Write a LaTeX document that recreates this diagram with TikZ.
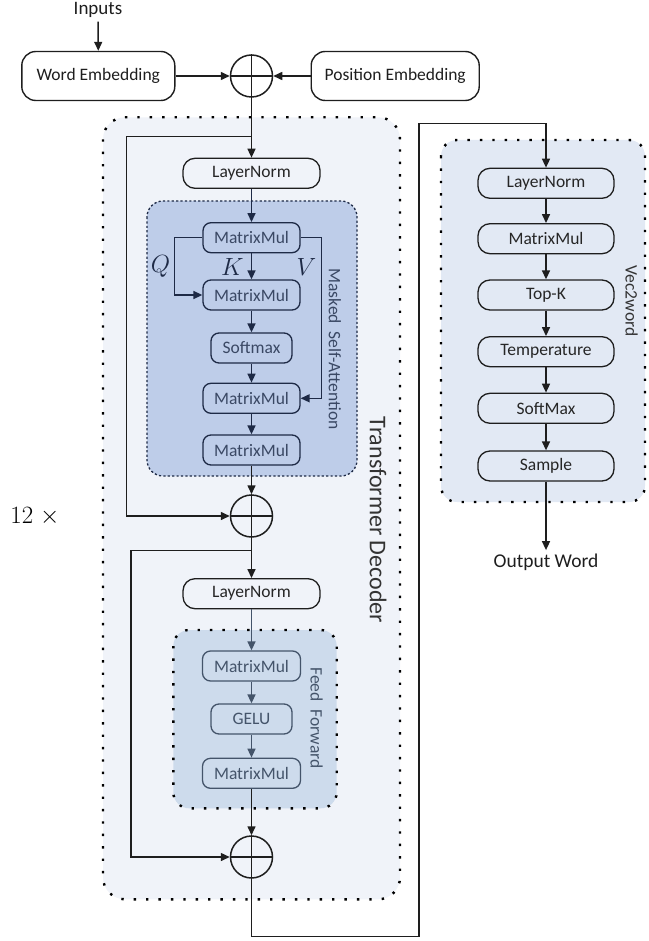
\documentclass[tikz,border=0pt]{standalone}
\usepackage{fontspec}
\setmainfont{Carlito}
\usetikzlibrary{arrows.meta}
\definecolor{outerfill}{RGB}{240,243,249}
\definecolor{vecfill}{RGB}{226,233,244}
\definecolor{attfill}{RGB}{190,205,233}
\definecolor{fffill}{RGB}{205,219,236}
\definecolor{navy}{RGB}{30,42,70}
\definecolor{navytext}{RGB}{58,72,100}
\definecolor{ffcol}{RGB}{68,84,106}
\definecolor{linecol}{RGB}{30,30,30}
\begin{document}
\begin{tikzpicture}[x=1pt,y=-1pt,
  >={Triangle[length=9pt,width=8pt]},
  txt/.style={font=\fontsize{17.5}{20}\selectfont},
  conn/.style={line width=1.5pt, draw=linecol},
  aconn/.style={line width=1.5pt, draw=navy},
  fconn/.style={line width=1.5pt, draw=ffcol},
  embbox/.style={txt, draw=linecol, line width=1.4pt, rounded corners=14pt, fill=white, minimum height=49pt, inner sep=0pt, text=linecol},
  lnbox/.style={txt, draw=linecol, line width=1.3pt, rounded corners=12pt, minimum width=137pt, minimum height=30pt, inner sep=0pt, text=black!85},
  attbox/.style={txt, draw=navy, line width=1.3pt, rounded corners=8pt, minimum height=30pt, inner sep=0pt, text=navytext},
  ffbox/.style={txt, draw=ffcol, line width=1.3pt, rounded corners=8pt, minimum height=30pt, inner sep=0pt, text=ffcol},
  vecbox/.style={txt, draw=linecol, line width=1.3pt, rounded corners=12pt, minimum width=136pt, minimum height=30pt, inner sep=0pt, text=black!85},
  sumc/.style={circle, draw=linecol, line width=1.5pt, minimum size=42pt, inner sep=0pt},
  dotframe/.style={draw=black, line width=2.4pt, dash pattern=on 2.4pt off 10pt},
  rotlabel/.style={txt, rotate=-90, anchor=center},
  qkv/.style={font=\fontsize{25}{28}\selectfont, text=navy}
]
\useasboundingbox (0,0) rectangle (648,941);

% containers
\fill[outerfill, rounded corners=22pt] (103,117.3) rectangle (400,899.3);
\draw[dotframe, rounded corners=22pt] (103,117.3) rectangle (400,899.3);
\fill[vecfill, rounded corners=16pt] (441,140) rectangle (645,502);
\draw[dotframe, rounded corners=16pt] (441,140) rectangle (645,502);
\fill[attfill, rounded corners=16pt] (147,201) rectangle (357,476);
\draw[navy, line width=1.3pt, dash pattern=on 2.2pt off 2.2pt, rounded corners=16pt] (147,201) rectangle (357,476);
\fill[fffill, rounded corners=16pt] (173.3,630) rectangle (336.7,808.3);
\draw[dotframe, rounded corners=16pt] (173.3,630) rectangle (336.7,808.3);

% top
\node[font=\fontsize{19}{22}\selectfont, text=linecol] (inputs) at (98,10) {Inputs};
\node[embbox, minimum width=153pt] (we) at (98.3,76) {Word Embedding};
\node[embbox, minimum width=168pt] (pe) at (395.2,76) {Position Embedding};
\node[sumc] (s1) at (251.5,76) {};

% decoder
\node[lnbox] (ln1) at (251.5,173.3) {LayerNorm};
\node[attbox, minimum width=97pt] (mm1) at (251.5,237.7) {MatrixMul};
\node[attbox, minimum width=97pt] (mm2) at (251.5,295) {MatrixMul};
\node[attbox, minimum width=81pt] (sm) at (251.5,348) {Softmax};
\node[attbox, minimum width=97pt] (mm3) at (251.5,398.3) {MatrixMul};
\node[attbox, minimum width=97pt] (mm4) at (251.5,450) {MatrixMul};
\node[sumc] (s2) at (251.5,516) {};
\node[lnbox] (ln2) at (251.5,593.7) {LayerNorm};
\node[ffbox, minimum width=98pt] (f1) at (251.5,666) {MatrixMul};
\node[ffbox, minimum width=81pt] (gelu) at (251.5,719) {GELU};
\node[ffbox, minimum width=98pt] (f2) at (251.5,773.3) {MatrixMul};
\node[sumc] (s3) at (251.5,857) {};

% vec2word
\node[vecbox] (v1) at (546,183.3) {LayerNorm};
\node[vecbox] (v2) at (546,238.7) {MatrixMul};
\node[vecbox] (v3) at (546,295) {Top-K};
\node[vecbox] (v4) at (546,351.7) {Temperature};
\node[vecbox] (v5) at (546,408.3) {SoftMax};
\node[vecbox] (v6) at (546,466) {Sample};
\node[font=\fontsize{19.5}{22}\selectfont, text=linecol] (out) at (546,562) {Output Word};

% labels
\node[rotlabel, text=navytext] (lab1) at (335,349) {Masked\ \ Self-Attention};
\node[rotlabel, text=ffcol] (lab2) at (316.7,718) {Feed\ \ Forward};
\node[rotlabel, font=\fontsize{24}{28}\selectfont, text=black!80] (lab3) at (378,520) {Transformer Decoder};
\node[rotlabel, text=black!80] (lab4) at (631.7,301) {Vec2word};
\node[font=\fontsize{26}{30}\selectfont] (rep) at (35,517) {$12\;\times$};
\node[qkv] (q) at (160.5,266) {$Q$};
\node[qkv] (k) at (232.5,266.5) {$K$};
\node[qkv] (v) at (306.5,266.5) {$V$};

% circle crosses
\foreach \c in {s1,s2,s3}{
  \draw[line width=1.5pt, linecol] (\c.north) -- (\c.south) (\c.west) -- (\c.east);
}

% coordinates
\coordinate (k1) at (251.5,136.7);
\coordinate (l1) at (126.7,136.7);
\coordinate (k2) at (251.5,550.7);
\coordinate (l2) at (131,550.7);
\coordinate (qx) at (174.3,266);
\coordinate (vx) at (321.7,266);
\coordinate (o1) at (251.5,936.7);
\coordinate (o2) at (419,936.7);
\coordinate (o3) at (419,123.3);
\coordinate (o4) at (546,123.3);
\coordinate (inb) at (98,21.7);

% connectors
\draw[conn,->] (inb) -- (we.north);
\draw[conn,->] (we.east) -- (s1.west);
\draw[conn,->] (pe.west) -- (s1.east);
\draw[conn,->] (s1.south) -- (ln1.north);
\draw[conn,->] (k1) -- (l1) |- (s2.west);
\draw[aconn,->] (ln1.south) -- (mm1.north);
\draw[aconn,->] (mm1.south) -- (mm2.north);
\draw[aconn,->] (mm1.west) -| (qx) |- (mm2.west);
\draw[aconn,->] (mm1.east) -| (vx) |- (mm3.east);
\draw[aconn,->] (mm2.south) -- (sm.north);
\draw[aconn,->] (sm.south) -- (mm3.north);
\draw[aconn,->] (mm3.south) -- (mm4.north);
\draw[conn,->] (mm4.south) -- (s2.north);
\draw[conn,->] (s2.south) -- (ln2.north);
\draw[conn,->] (k2) -- (l2) |- (s3.west);
\draw[fconn,->] (ln2.south) -- (f1.north);
\draw[fconn,->] (f1.south) -- (gelu.north);
\draw[fconn,->] (gelu.south) -- (f2.north);
\draw[conn,->] (f2.south) -- (s3.north);
\draw[conn,->] (s3.south) -- (o1) -- (o2) -- (o3) -- (o4) -- (v1.north);
\draw[conn,->] (v1.south) -- (v2.north);
\draw[conn,->] (v2.south) -- (v3.north);
\draw[conn,->] (v3.south) -- (v4.north);
\draw[conn,->] (v4.south) -- (v5.north);
\draw[conn,->] (v5.south) -- (v6.north);
\draw[conn,->] (v6.south) -- (out.north);
\end{tikzpicture}
\end{document}
